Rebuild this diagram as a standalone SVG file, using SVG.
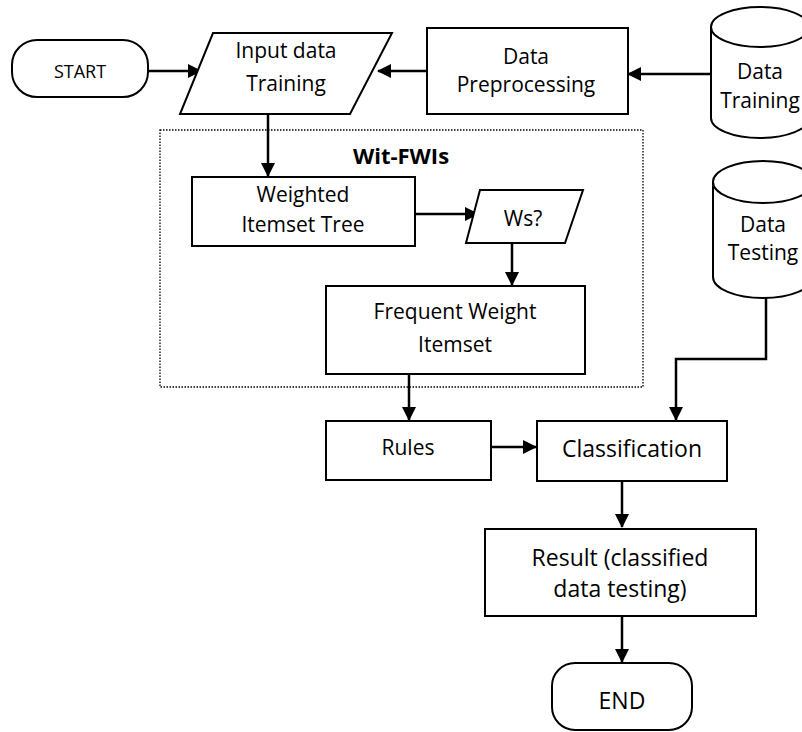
<svg xmlns="http://www.w3.org/2000/svg" width="802" height="732" viewBox="0 0 802 732">
  <style>
    .shape { fill: #ffffff; stroke: #000000; stroke-width: 2; }
    .lbl { font-family: "Open Sans", "Liberation Sans", sans-serif; font-size: 21px; fill: #000000; text-anchor: middle; }
    .big { font-size: 23px; }
    .small { font-size: 18px; }
    .title { font-weight: bold; font-size: 22px; }
    .conn { fill: none; stroke: #000000; stroke-width: 2.5; marker-end: url(#arrow); }
    .frame { fill: none; stroke: #000000; stroke-width: 1.3; stroke-dasharray: 1.5 1.5; }
  </style>
  <defs>
    <marker id="arrow" markerUnits="userSpaceOnUse" markerWidth="14" markerHeight="14" viewBox="0 0 14 14" refX="13" refY="7" orient="auto">
      <path d="M0,0 L14,7 L0,14 Z" fill="#000000"/>
    </marker>
  </defs>

  <rect width="802" height="732" fill="#ffffff"/>

  <!-- Wit-FWIs grouping frame -->
  <g id="wit-fwis">
    <rect class="frame" x="160" y="130" width="483" height="257"/>
    <text class="lbl title" x="401" y="164">Wit-FWIs</text>
  </g>

  <!-- connectors -->
  <g id="connectors">
    <line class="conn" x1="148" y1="71" x2="201" y2="71"/>
    <line class="conn" x1="427" y1="71" x2="378" y2="71"/>
    <line class="conn" x1="711" y1="74" x2="628" y2="74"/>
    <line class="conn" x1="268" y1="114" x2="268" y2="176"/>
    <line class="conn" x1="415" y1="214" x2="478" y2="214"/>
    <line class="conn" x1="512" y1="243" x2="512" y2="285"/>
    <line class="conn" x1="409" y1="374" x2="409" y2="420"/>
    <line class="conn" x1="491" y1="447" x2="536" y2="447"/>
    <polyline class="conn" points="766,296 766,359 676,359 676,420"/>
    <line class="conn" x1="622" y1="481" x2="622" y2="527"/>
    <line class="conn" x1="622" y1="616" x2="622" y2="662"/>
  </g>

  <g id="start">
    <rect class="shape" x="12" y="40" width="136" height="57" rx="25" ry="25"/>
    <text class="lbl small" x="80" y="78">START</text>
  </g>

  <g id="input-data">
    <polygon class="shape" points="213,33 392,33 350,114 180,114"/>
    <text class="lbl" x="286" y="58">Input data</text>
    <text class="lbl" x="286" y="91">Training</text>
  </g>

  <g id="data-preprocessing">
    <rect class="shape" x="427" y="28" width="201" height="86"/>
    <text class="lbl" x="526" y="64">Data</text>
    <text class="lbl" x="526" y="92">Preprocessing</text>
  </g>

  <g id="data-training">
    <path class="shape" d="M711,27 A49,20 0 0 1 809,27 L809,118 A49,20 0 0 1 711,118 Z"/>
    <path class="shape" d="M711,27 A49,20 0 0 0 809,27" fill="none"/>
    <text class="lbl" x="760" y="79">Data</text>
    <text class="lbl" x="760" y="108">Training</text>
  </g>

  <g id="weighted-itemset-tree">
    <rect class="shape" x="192" y="177" width="223" height="69"/>
    <text class="lbl" x="303" y="202">Weighted</text>
    <text class="lbl" x="303" y="232">Itemset Tree</text>
  </g>

  <g id="ws">
    <polygon class="shape" points="480,190 583,190 565,243 466,243"/>
    <text class="lbl" x="523" y="226">Ws?</text>
  </g>

  <g id="frequent-weight-itemset">
    <rect class="shape" x="326" y="286" width="259" height="88"/>
    <text class="lbl" x="455" y="319">Frequent Weight</text>
    <text class="lbl" x="455" y="352">Itemset</text>
  </g>

  <g id="data-testing">
    <path class="shape" d="M713,182 A50,21 0 0 1 813,182 L813,277 A50,21 0 0 1 713,277 Z"/>
    <path class="shape" d="M713,182 A50,21 0 0 0 813,182" fill="none"/>
    <text class="lbl" x="763" y="232">Data</text>
    <text class="lbl" x="763" y="260">Testing</text>
  </g>

  <g id="rules">
    <rect class="shape" x="326" y="421" width="165" height="59"/>
    <text class="lbl" x="408" y="455">Rules</text>
  </g>

  <g id="classification">
    <rect class="shape" x="537" y="421" width="190" height="60"/>
    <text class="lbl big" x="632" y="457">Classification</text>
  </g>

  <g id="result">
    <rect class="shape" x="485" y="529" width="271" height="87"/>
    <text class="lbl big" x="620" y="566">Result (classified</text>
    <text class="lbl big" x="620" y="597">data testing)</text>
  </g>

  <g id="end">
    <rect class="shape" x="552" y="663" width="140" height="67" rx="23" ry="23"/>
    <text class="lbl big" x="622" y="709">END</text>
  </g>
</svg>
